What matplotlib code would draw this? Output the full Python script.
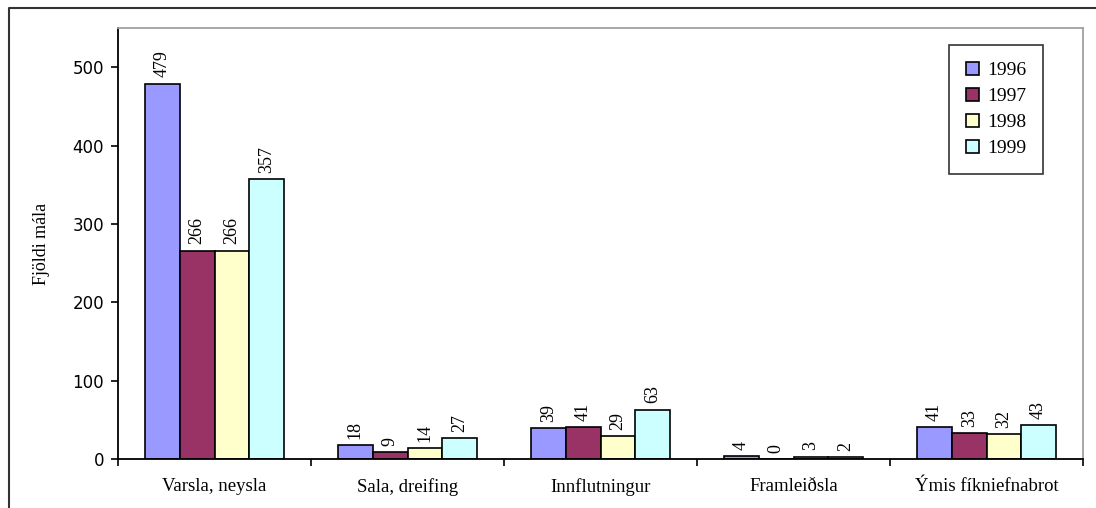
import numpy as np
import matplotlib.pyplot as plt
from matplotlib.lines import Line2D

categories = ['Varsla, neysla', 'Sala, dreifing', 'Innflutningur', 'Framleiðsla', 'Ýmis fíkniefnabrot']
years = ['1996', '1997', '1998', '1999']
v1996 = [479, 18, 39, 4, 41]
v1997 = [266, 9, 41, 0, 33]
v1998 = [266, 14, 29, 3, 32]
v1999 = [357, 27, 63, 2, 43]
colors = ['#9999FF', '#993366', '#FFFFCC', '#CCFFFF']

serif = 'Liberation Serif'

fig = plt.figure(figsize=(10.96, 5.08), dpi=100)
ax = fig.add_axes([118 / 1096, 49 / 508, 965 / 1096, 431 / 508])

x = np.arange(len(categories))
w = 0.18
series = [v1996, v1997, v1998, v1999]
for i, (vals, c, yr) in enumerate(zip(series, colors, years)):
    pos = x + (i - 1.5) * w
    bars = ax.bar(pos, vals, width=w, color=c, edgecolor='black', linewidth=1.2, label=yr)
    for b, v in zip(bars, vals):
        ax.text(b.get_x() + w / 2, v + 8, str(v), rotation=90, ha='center', va='bottom',
                fontsize=13, family=serif)

ax.set_xlim(-0.5, len(categories) - 0.5)
ax.set_ylim(0, 550)
ax.set_yticks([0, 100, 200, 300, 400, 500])
ax.tick_params(axis='y', direction='out', length=5, width=1.2, labelsize=12, pad=5)
ax.set_xticks(x)
ax.set_xticklabels(categories, family=serif, fontsize=13.5)
ax.tick_params(axis='x', length=0, pad=14)
ax.set_xticks(np.arange(len(categories) + 1) - 0.5, minor=True)
ax.tick_params(axis='x', which='minor', direction='out', length=5, width=1.2)

ax.set_ylabel('Fjöldi mála', family=serif, fontsize=13, labelpad=16)

for s in ['left', 'bottom']:
    ax.spines[s].set_linewidth(1.3)
for s in ['top', 'right']:
    ax.spines[s].set_color('#a0a0a0')
    ax.spines[s].set_linewidth(1.3)

leg = ax.legend(loc='upper right', bbox_to_anchor=(1043 / 1096, 463 / 508), bbox_transform=fig.transFigure,
                prop={'family': serif, 'size': 14}, frameon=True, fancybox=False,
                edgecolor='black', handlelength=0.65, handleheight=0.65, handletextpad=0.45,
                labelspacing=0.45, borderpad=0.85, borderaxespad=0)
leg.get_frame().set_linewidth(1.2)

# outer chart border (left and top)
fig.add_artist(Line2D([9 / 1096, 9 / 1096, 1], [0, 500 / 508, 500 / 508], color='#333333', linewidth=1.5))

plt.savefig('out.png')
